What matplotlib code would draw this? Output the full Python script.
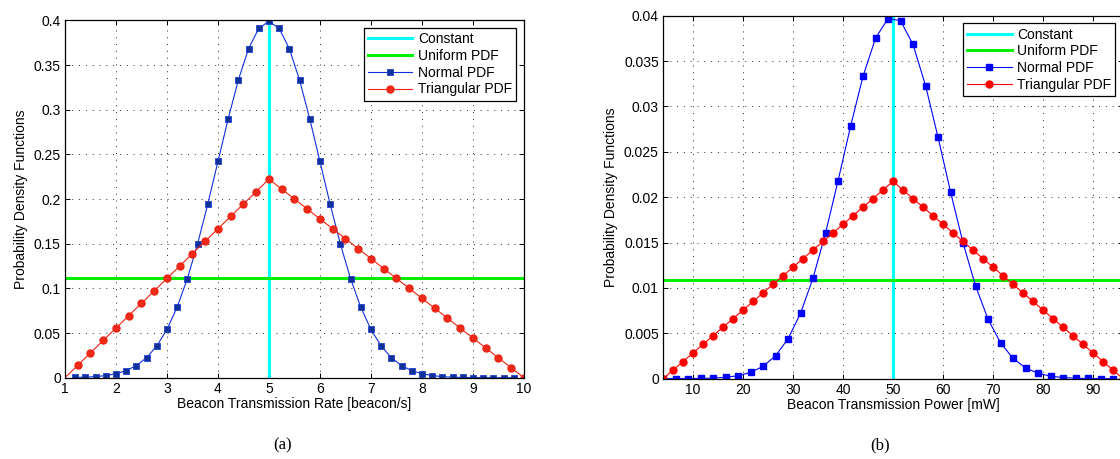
import matplotlib
matplotlib.use("Agg")
import matplotlib.pyplot as plt
from matplotlib.ticker import FuncFormatter

plt.rcParams['font.family'] = ['Liberation Sans', 'DejaVu Sans']
plt.rcParams['font.size'] = 10

# (a) beacon rate
rate_const = 5.0
rate_uniform = 0.1111

rate_normal_x = [1.2, 1.4, 1.6, 1.8, 2.0, 2.2, 2.4, 2.6, 2.8, 3.0, 3.2, 3.4, 3.6, 3.8,
                 4.0, 4.2, 4.4, 4.6, 4.8, 5.0, 5.2, 5.4, 5.6, 5.8, 6.0, 6.2, 6.4, 6.6,
                 6.8, 7.0, 7.2, 7.4, 7.6, 7.8, 8.0, 8.2, 8.4, 8.6, 8.8, 9.0, 9.2, 9.4,
                 9.6, 9.8]
rate_normal_y = [0.0003, 0.0006, 0.0012, 0.0024, 0.0044, 0.0079, 0.0136, 0.0224, 0.0355,
                 0.0540, 0.0790, 0.1109, 0.1497, 0.1942, 0.2420, 0.2897, 0.3332, 0.3683,
                 0.3910, 0.3989, 0.3910, 0.3683, 0.3332, 0.2897, 0.2420, 0.1942, 0.1497,
                 0.1109, 0.0790, 0.0540, 0.0355, 0.0224, 0.0136, 0.0079, 0.0044, 0.0024,
                 0.0012, 0.0006, 0.0003, 0.0001, 0.0001, 0.0, 0.0, 0.0]

rate_tri_x = [1.0, 1.25, 1.5, 1.75, 2.0, 2.25, 2.5, 2.75, 3.0, 3.25, 3.5, 3.75, 4.0, 4.25,
              4.5, 4.75, 5.0, 5.25, 5.5, 5.75, 6.0, 6.25, 6.5, 6.75, 7.0, 7.25, 7.5, 7.75,
              8.0, 8.25, 8.5, 8.75, 9.0, 9.25, 9.5, 9.75, 10.0]
rate_tri_y = [0.0, 0.0139, 0.0278, 0.0417, 0.0556, 0.0694, 0.0833, 0.0972, 0.1111, 0.1250,
              0.1389, 0.1528, 0.1667, 0.1806, 0.1944, 0.2083, 0.2222, 0.2111, 0.2000,
              0.1889, 0.1778, 0.1667, 0.1556, 0.1444, 0.1333, 0.1222, 0.1111, 0.1000,
              0.0889, 0.0778, 0.0667, 0.0556, 0.0444, 0.0333, 0.0222, 0.0111, 0.0]

rate_xticks = [1, 2, 3, 4, 5, 6, 7, 8, 9, 10]
rate_yticks = [0, 0.05, 0.1, 0.15, 0.2, 0.25, 0.3, 0.35, 0.4]

# (b) beacon power
pow_const = 50.0
pow_uniform = 0.01087

pow_normal_x = [4, 6.5, 9, 11.5, 14, 16.5, 19, 21.5, 24, 26.5, 29, 31.5, 34, 36.5, 39,
                41.5, 44, 46.5, 49, 51.5, 54, 56.5, 59, 61.5, 64, 66.5, 69, 71.5, 74,
                76.5, 79, 81.5, 84, 86.5, 89, 91.5, 94]
pow_normal_y = [0.000001, 0.000003, 0.000009, 0.000024, 0.000061, 0.000146, 0.000327,
                0.000687, 0.001358, 0.002522, 0.004398, 0.007206, 0.01109, 0.01604,
                0.02179, 0.02780, 0.03332, 0.03752, 0.03969, 0.03945, 0.03683, 0.03230,
                0.02661, 0.02059, 0.01497, 0.01023, 0.00656, 0.003955, 0.002239,
                0.001191, 0.000595, 0.000279, 0.000123, 0.000051, 0.00002, 0.000007,
                0.000003]

pow_tri_x = [4, 6, 8, 10, 12, 14, 16, 18, 20, 22, 24, 26, 28, 30, 32, 34, 36, 38, 40, 42,
             44, 46, 48, 50, 52, 54, 56, 58, 60, 62, 64, 66, 68, 70, 72, 74, 76, 78, 80,
             82, 84, 86, 88, 90, 92, 94, 96]
pow_tri_y = [0.0, 0.000945, 0.00189, 0.002836, 0.003781, 0.004726, 0.005671, 0.006616,
             0.007561, 0.008507, 0.009452, 0.010397, 0.011342, 0.012287, 0.013233,
             0.014178, 0.015123, 0.016068, 0.017013, 0.017958, 0.018904, 0.019849,
             0.020794, 0.021739, 0.020794, 0.019849, 0.018904, 0.017958, 0.017013,
             0.016068, 0.015123, 0.014178, 0.013233, 0.012287, 0.011342, 0.010397,
             0.009452, 0.008507, 0.007561, 0.006616, 0.005671, 0.004726, 0.003781,
             0.002836, 0.00189, 0.000945, 0.0]

pow_xticks = [10, 20, 30, 40, 50, 60, 70, 80, 90]
pow_yticks = [0, 0.005, 0.01, 0.015, 0.02, 0.025, 0.03, 0.035, 0.04]


def style_axes(ax, xticks, yticks, xlabel):
    ax.set_xticks(xticks)
    ax.set_yticks(yticks)
    ax.yaxis.set_major_formatter(FuncFormatter(lambda v, p: '%g' % v))
    ax.grid(True, color='0.15', linestyle=(0, (1, 6)), linewidth=0.7)
    ax.tick_params(direction='in', top=True, right=True, length=3.5, width=0.7,
                   labelsize=10, pad=3)
    for s in ax.spines.values():
        s.set_linewidth(0.9)
    ax.set_xlabel(xlabel, labelpad=1)
    ax.set_ylabel('Probability Density Functions', labelpad=4)
    ax.legend(loc='upper right', fancybox=False, edgecolor='black', framealpha=1,
              handlelength=3.2, labelspacing=0.2, borderpad=0.3, handletextpad=0.4,
              borderaxespad=0.55, fontsize=10).get_frame().set_linewidth(0.9)


fig = plt.figure(figsize=(11.2, 4.59), dpi=100)

ax1 = fig.add_axes([0.058, 0.1771, 0.4098, 0.7786])
ax1.axvline(rate_const, color='#00ffff', lw=2.2, label='Constant')
ax1.axhline(rate_uniform, color='#00ee00', lw=2.2, label='Uniform PDF')
ax1.plot(rate_normal_x, rate_normal_y, '-s', color='#1030e0', lw=0.8, ms=4,
         mfc='#10309a', mec='#2040d0', mew=0.6, label='Normal PDF')
ax1.plot(rate_tri_x, rate_tri_y, '-o', color='#ee2211', lw=0.8, ms=5,
         mfc='#ee2a1a', mec='#ee2211', markevery=slice(1, None), label='Triangular PDF')
ax1.set_xlim(1, 10)
ax1.set_ylim(0, 0.4)
style_axes(ax1, rate_xticks, rate_yticks, 'Beacon Transmission Rate [beacon/s]')

ax2 = fig.add_axes([0.592, 0.175, 0.4107, 0.7908])
ax2.axvline(pow_const, color='#00ffff', lw=2.2, label='Constant')
ax2.axhline(pow_uniform, color='#00ee00', lw=2.2, label='Uniform PDF')
ax2.plot(pow_normal_x, pow_normal_y, '-s', color='#0000ff', lw=0.8, ms=4,
         mfc='#0000ff', mec='#0000ff', label='Normal PDF')
ax2.plot(pow_tri_x, pow_tri_y, '-o', color='#ff0000', lw=0.8, ms=5,
         mfc='#ff0000', mec='#ff0000', label='Triangular PDF')
ax2.set_xlim(4, 96)
ax2.set_ylim(0, 0.04)
style_axes(ax2, pow_xticks, pow_yticks, 'Beacon Transmission Power [mW]')

fig.text(0.2527, 1 - 445 / 459, '(a)', ha='center', va='center',
         family=['Liberation Serif', 'DejaVu Serif'], fontsize=12)
fig.text(0.786, 1 - 445 / 459, '(b)', ha='center', va='center',
         family=['Liberation Serif', 'DejaVu Serif'], fontsize=12)

fig.savefig('out.png', dpi=100)
